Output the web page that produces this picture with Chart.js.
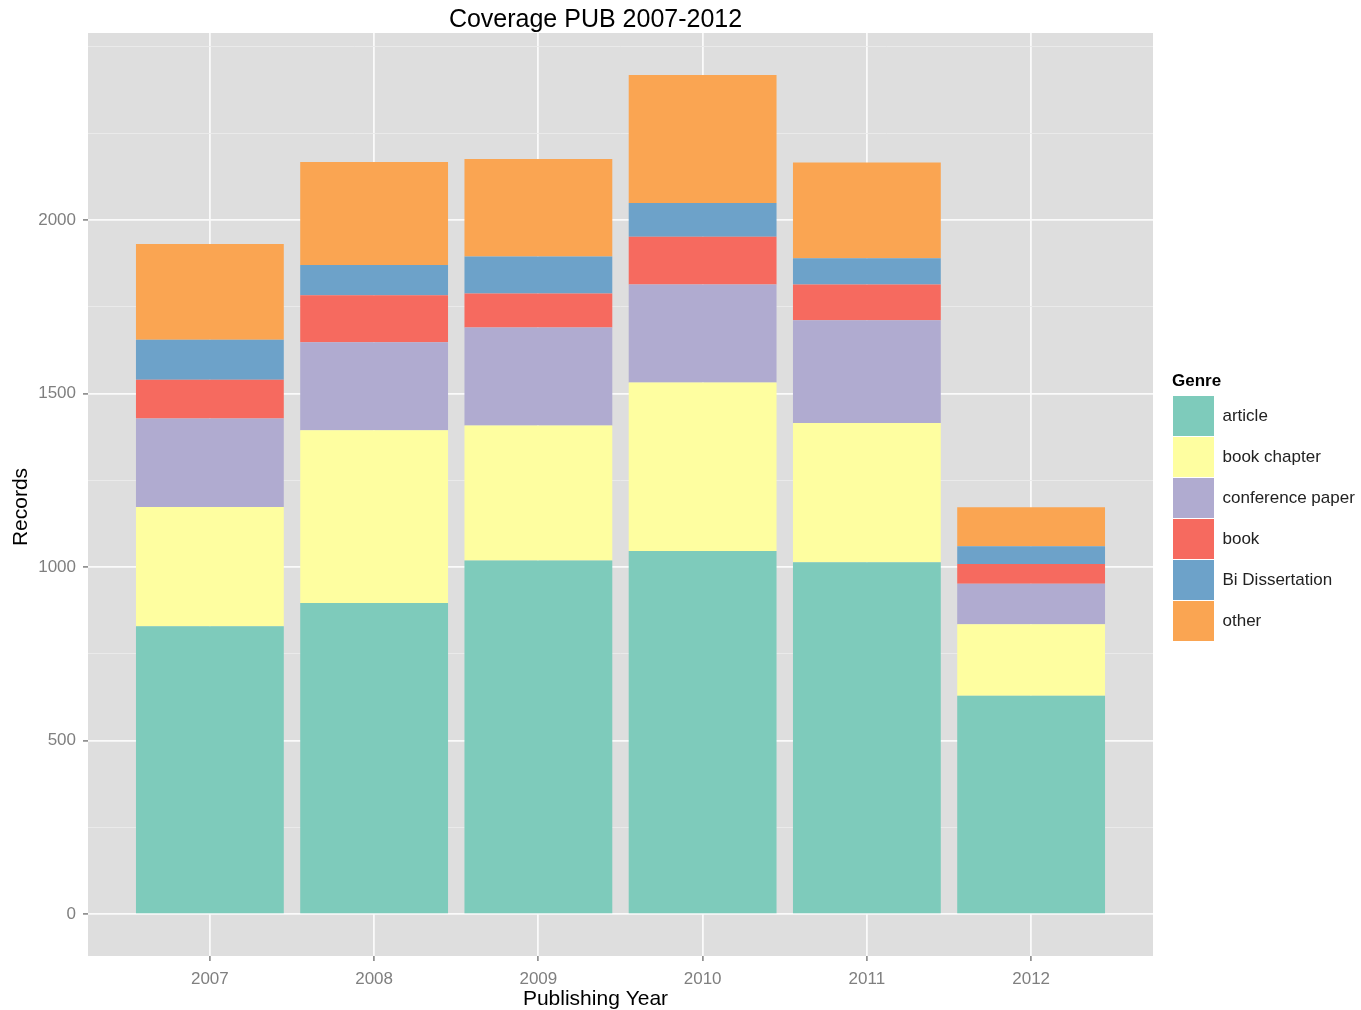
<!DOCTYPE html>
<html>
<head>
<meta charset="utf-8">
<title>Coverage PUB 2007-2012</title>
<script src="https://cdn.jsdelivr.net/npm/chart.js@4.4.1/dist/chart.umd.min.js"></script>
<style>
  html, body { margin: 0; padding: 0; background: #ffffff; }
  #wrap { width: 1361px; height: 1010px; }
</style>
</head>
<body>
<div id="wrap"><canvas id="coverageChart" width="1361" height="1010"></canvas></div>
<script>
// Records per genre and publishing year
const years = [2007, 2008, 2009, 2010, 2011, 2012];
const genres = ['article', 'book chapter', 'conference paper', 'book', 'Bi Dissertation', 'other'];
const article         = [829, 896, 1019, 1046, 1014, 629];
const bookChapter     = [344, 498, 389, 486, 401, 206];
const conferencePaper = [255, 254, 282, 282, 296, 117];
const book            = [112, 135, 98, 138, 103, 57];
const biDissertation  = [115, 87, 107, 97, 76, 51];
const other           = [276, 297, 281, 369, 276, 112];
const yMajorTicks = [0, 500, 1000, 1500, 2000];
const yMinorTicks = [250, 750, 1250, 1750, 2250, 2500];

const COLORS = [
    '#7ECBBB', // article
    '#FEFEA0', // book chapter
    '#B0ABD0', // conference paper
    '#F66A5F', // book
    '#6DA2C9', // Bi Dissertation
    '#FAA552'  // other
];

const seriesValues = [article, bookChapter, conferencePaper, book, biDissertation, other];

// ggplot-like 5% expansion of the y range, fixed padding on the discrete x range
const totals = years.map((_, i) => seriesValues.reduce((s, arr) => s + arr[i], 0));
const yPad = Math.max(...totals) * 0.05;
const xPad = 0.742;

const FONT = '"Liberation Sans", Arial, Helvetica, sans-serif';
Chart.defaults.font.family = FONT;

function isMajor(v) {
    return yMajorTicks.includes(v);
}

// grey panel behind the grid
const panelBg = {
    id: 'panelBg',
    beforeDraw(chart) {
        const { ctx, chartArea: a } = chart;
        ctx.save();
        ctx.fillStyle = '#DEDEDE';
        ctx.fillRect(a.left, a.top, a.right - a.left, a.bottom - a.top);
        ctx.restore();
    }
};

// plot title and axis titles placed like the original
const titles = {
    id: 'titles',
    afterDraw(chart) {
        const ctx = chart.ctx;
        ctx.save();
        ctx.fillStyle = '#000000';
        ctx.textAlign = 'center';
        ctx.textBaseline = 'alphabetic';
        ctx.font = '25px ' + FONT;
        ctx.fillText('Coverage PUB 2007-2012', 595.5, 27);
        ctx.font = '21px ' + FONT;
        ctx.fillText('Publishing Year', 595.5, 1005);
        ctx.translate(21, 507);
        ctx.rotate(-Math.PI / 2);
        ctx.textBaseline = 'middle';
        ctx.fillText('Records', 0, 0);
        ctx.restore();
    }
};

const ctx = document.getElementById('coverageChart').getContext('2d');
new Chart(ctx, {
    type: 'bar',
    data: {
        labels: years,
        datasets: genres.map((g, i) => ({
            label: g,
            data: seriesValues[i],
            backgroundColor: COLORS[i],
            borderWidth: 0,
            categoryPercentage: 0.9,
            barPercentage: 1.0
        }))
    },
    options: {
        responsive: false,
        animation: false,
        layout: { padding: { top: 33, left: 0, right: 0, bottom: 0 } },
        scales: {
            x: {
                type: 'linear',
                stacked: true,
                offset: false,
                min: years[0] - xPad,
                max: years[years.length - 1] + xPad,
                afterBuildTicks: s => { s.ticks = years.map(v => ({ value: v })); },
                afterFit: s => { s.height = 54; },
                border: { display: false },
                grid: {
                    offset: false,
                    color: '#FAFAFA',
                    lineWidth: 1.8,
                    tickColor: '#7F7F7F',
                    tickLength: 5,
                    tickWidth: 1.5
                },
                ticks: {
                    color: '#7F7F7F',
                    font: { size: 17 },
                    padding: 8,
                    maxRotation: 0,
                    callback: v => String(v)
                }
            },
            y: {
                stacked: true,
                min: -yPad,
                max: Math.max(...totals) + yPad,
                afterBuildTicks: s => {
                    s.ticks = yMajorTicks.concat(yMinorTicks).sort((a, b) => a - b).map(v => ({ value: v }));
                },
                afterFit: s => { s.width = 88; },
                border: { display: false },
                grid: {
                    color: c => isMajor(c.tick.value) ? '#FAFAFA' : '#EBEBEB',
                    lineWidth: c => isMajor(c.tick.value) ? 1.8 : 0.9,
                    tickColor: c => isMajor(c.tick.value) ? '#7F7F7F' : 'rgba(0,0,0,0)',
                    tickLength: 5,
                    tickWidth: 1.5
                },
                ticks: {
                    color: '#7F7F7F',
                    font: { size: 17 },
                    padding: 7,
                    callback: v => isMajor(v) ? String(v) : ''
                }
            },
            // empty strip between the panel and the legend
            gap: {
                type: 'linear',
                position: 'right',
                display: true,
                afterFit: s => { s.width = 19; },
                border: { display: false },
                grid: { display: false, drawTicks: false },
                ticks: { display: false }
            }
        },
        plugins: {
            legend: {
                position: 'right',
                align: 'start',
                maxWidth: 189,
                title: {
                    display: true,
                    text: 'Genre',
                    position: 'start',
                    color: '#000000',
                    font: { size: 17, weight: 'bold' },
                    padding: { top: 339.5, bottom: 2 }
                },
                labels: {
                    boxWidth: 41,
                    boxHeight: 40,
                    padding: 1,
                    color: '#222222',
                    font: { size: 17 }
                }
            },
            tooltip: { enabled: false }
        }
    },
    plugins: [panelBg, titles]
});
</script>
</body>
</html>
